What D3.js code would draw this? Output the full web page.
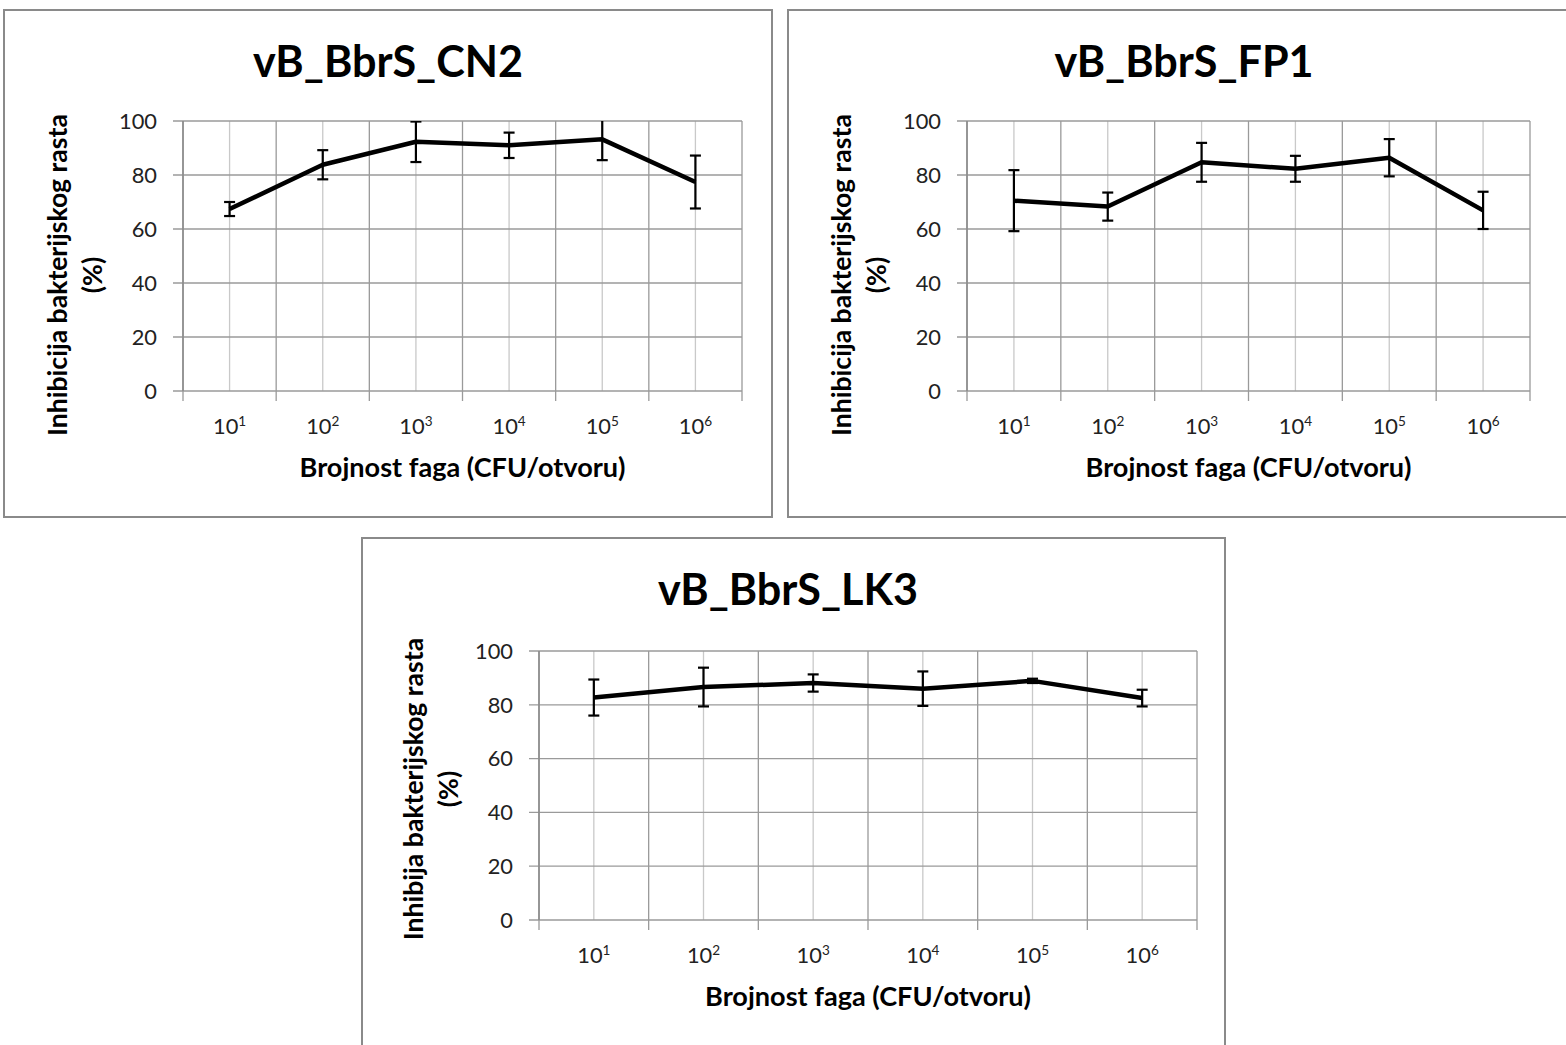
<!DOCTYPE html>
<html>
<head>
<meta charset="utf-8">
<script src="https://cdn.jsdelivr.net/npm/d3@7"></script>
<style>
  html, body { margin: 0; padding: 0; background: #fff; }
  svg { display: block; font-family: Lato, "Open Sans", sans-serif; }
</style>
</head>
<body>
<svg id="chart" width="1566" height="1045"></svg>
<script>
// ---------------- data ----------------
const exponents = [1, 2, 3, 4, 5, 6];            // categories: 10^1 ... 10^6
const yTicks = [0, 20, 40, 60, 80, 100];
const titles = ["vB_BbrS_CN2", "vB_BbrS_FP1", "vB_BbrS_LK3"];
const yTitles = ["Inhibicija bakterijskog rasta", "Inhibicija bakterijskog rasta", "Inhibija bakterijskog rasta"];
const xTitle = "Brojnost faga (CFU/otvoru)";

const cn2Mean = [67.4, 83.8, 92.3, 91.0, 93.2, 77.4];
const cn2Err  = [2.6, 5.4, 7.5, 4.7, 7.7, 9.8];
const fp1Mean = [70.5, 68.3, 84.7, 82.3, 86.4, 66.9];
const fp1Err  = [11.3, 5.2, 7.2, 4.8, 6.9, 6.9];
const lk3Mean = [82.7, 86.6, 88.1, 86.0, 88.9, 82.5];
const lk3Err  = [6.7, 7.2, 3.2, 6.4, 0.8, 3.1];

const seriesMeans = [cn2Mean, fp1Mean, lk3Mean];
const seriesErrs = [cn2Err, fp1Err, lk3Err];

// ---------------- layout ----------------
const layout = [
  { box: [4, 10, 768, 507],    titleX: 388,  plot: [183, 121, 742, 391], yTitleY: 275 },
  { box: [788, 10, 800, 507],  titleX: 1184, plot: [967, 121, 1530, 391], yTitleY: 275 },
  { box: [362, 538, 863, 520], titleX: 788,  plot: [539, 651, 1197, 920], yTitleY: 789 }
];

const svg = d3.select("#chart");

// font fitting helper
function fitSize(text, weight, targetWidth) {
  const t = svg.append("text").attr("font-size", 100).attr("font-weight", weight).text(text);
  const w = t.node().getComputedTextLength();
  t.remove();
  return 100 * targetWidth / w;
}
const titleSize = fitSize("vB_BbrS_CN2", "bold", 270);
const axisTitleSize = fitSize(xTitle, "bold", 326);
const yTitleSize = fitSize(yTitles[0], "bold", 322);
const tickSize = fitSize("100", "normal", 38);

function drawPanel(i) {
  const L = layout[i];
  const [bx, by, bw, bh] = L.box;
  const [px0, py0, px1, py1] = L.plot;
  const g = svg.append("g");

  g.append("rect")
    .attr("x", bx).attr("y", by).attr("width", bw).attr("height", bh)
    .attr("fill", "#fff").attr("stroke", "#8a8a8a").attr("stroke-width", 2);

  const x = d3.scaleBand().domain(exponents).range([px0, px1]).paddingInner(0).paddingOuter(0);
  const y = d3.scaleLinear().domain([0, 100]).range([py1, py0]);

  // minor vertical gridlines at category centres
  g.append("g").selectAll("line").data(exponents).join("line")
    .attr("x1", d => x(d) + x.bandwidth() / 2).attr("x2", d => x(d) + x.bandwidth() / 2)
    .attr("y1", py0).attr("y2", py1)
    .attr("stroke", "#c9c9c9").attr("stroke-width", 1.3);

  // major vertical gridlines at category boundaries
  const bounds = exponents.map(d => x(d)).concat([px1]);
  g.append("g").selectAll("line").data(bounds).join("line")
    .attr("x1", d => d).attr("x2", d => d)
    .attr("y1", py0).attr("y2", py1 + 10)
    .attr("stroke", "#9a9a9a").attr("stroke-width", 1.3);

  // horizontal gridlines + ticks
  g.append("g").selectAll("line").data(yTicks).join("line")
    .attr("x1", px0 - 10).attr("x2", px1)
    .attr("y1", d => y(d)).attr("y2", d => y(d))
    .attr("stroke", "#9a9a9a").attr("stroke-width", 1.3);

  // y axis line
  g.append("line").attr("x1", px0).attr("x2", px0).attr("y1", py0).attr("y2", py1)
    .attr("stroke", "#8a8a8a").attr("stroke-width", 1.5);

  // y tick labels
  g.append("g").selectAll("text").data(yTicks).join("text")
    .attr("x", px0 - 26).attr("y", d => y(d))
    .attr("dy", "0.36em")
    .attr("text-anchor", "end")
    .attr("font-size", tickSize)
    .attr("fill", "#222")
    .text(d => d);

  // x tick labels 10^n
  const xt = g.append("g").selectAll("text").data(exponents).join("text")
    .attr("x", d => x(d) + x.bandwidth() / 2)
    .attr("y", py1 + 43)
    .attr("text-anchor", "middle")
    .attr("font-size", tickSize)
    .attr("fill", "#222");
  xt.append("tspan").text("10");
  xt.append("tspan").attr("dy", -tickSize * 0.38).attr("font-size", tickSize * 0.62).text(d => d);

  // title
  g.append("text")
    .attr("x", L.titleX).attr("y", by + 66.7)
    .attr("text-anchor", "middle")
    .attr("font-weight", "bold")
    .attr("font-size", titleSize)
    .attr("fill", "#000")
    .text(titles[i]);

  // x axis title
  g.append("text")
    .attr("x", (px0 + px1) / 2).attr("y", py1 + 86)
    .attr("text-anchor", "middle")
    .attr("font-weight", "bold")
    .attr("font-size", axisTitleSize)
    .attr("fill", "#000")
    .text(xTitle);

  // y axis title (two lines)
  const yt = g.append("g").attr("font-weight", "bold").attr("font-size", yTitleSize).attr("fill", "#000");
  yt.append("text")
    .attr("transform", `translate(${px0 - 116},${L.yTitleY}) rotate(-90)`)
    .attr("text-anchor", "middle")
    .text(yTitles[i]);
  yt.append("text")
    .attr("transform", `translate(${px0 - 81},${L.yTitleY}) rotate(-90)`)
    .attr("text-anchor", "middle")
    .text("(%)");

  // clip for data
  const clipId = "clip" + i;
  svg.append("clipPath").attr("id", clipId)
    .append("rect").attr("x", px0 - 20).attr("y", py0).attr("width", px1 - px0 + 40).attr("height", py1 - py0);

  const means = seriesMeans[i];
  const errs = seriesErrs[i];
  const pts = exponents.map((e, j) => ({ e, m: means[j], s: errs[j] }));
  const cx = d => x(d.e) + x.bandwidth() / 2;
  const dg = g.append("g").attr("clip-path", `url(#${clipId})`);

  // error bars
  const eb = dg.append("g").attr("stroke", "#000").attr("stroke-width", 2.2);
  eb.selectAll("line.v").data(pts).join("line").attr("class", "v")
    .attr("x1", cx).attr("x2", cx)
    .attr("y1", d => y(d.m - d.s)).attr("y2", d => y(d.m + d.s));
  eb.selectAll("line.t").data(pts).join("line").attr("class", "t")
    .attr("x1", d => cx(d) - 5.5).attr("x2", d => cx(d) + 5.5)
    .attr("y1", d => y(d.m + d.s)).attr("y2", d => y(d.m + d.s));
  eb.selectAll("line.b").data(pts).join("line").attr("class", "b")
    .attr("x1", d => cx(d) - 5.5).attr("x2", d => cx(d) + 5.5)
    .attr("y1", d => y(d.m - d.s)).attr("y2", d => y(d.m - d.s));

  // main line
  dg.append("path")
    .datum(pts)
    .attr("fill", "none")
    .attr("stroke", "#000")
    .attr("stroke-width", 4.5)
    .attr("stroke-linejoin", "round")
    .attr("d", d3.line().x(cx).y(d => y(d.m)));
}

[0, 1, 2].forEach(drawPanel);
</script>
</body>
</html>
